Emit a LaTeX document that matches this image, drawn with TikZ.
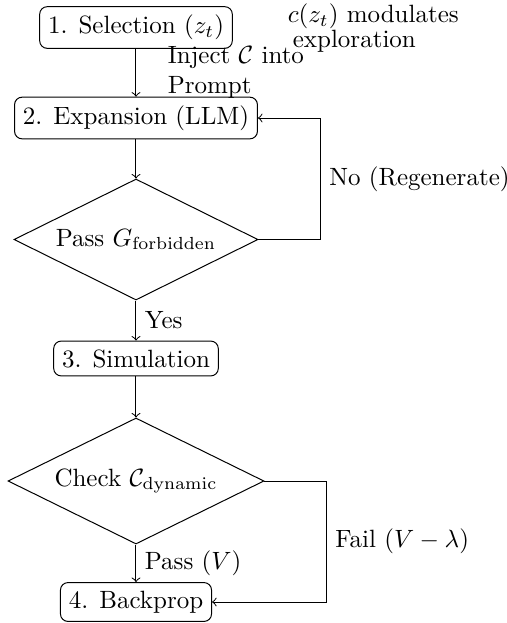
\documentclass[tikz,border=0pt]{standalone}
\usetikzlibrary{shapes.geometric}
\begin{document}
\begin{tikzpicture}[x=0.4pt,y=-0.4pt,
  stepbox/.style={draw, rounded corners=3pt, inner sep=3.33pt},
  decision/.style={draw, diamond, aspect=2, inner sep=1pt},
  arr/.style={->}]
\useasboundingbox (0,0) rectangle (507,623);
\node[stepbox] (n1) at (136,27.5) {1. Selection $(z_t)$};
\node[stepbox] (n2) at (136,118) {2. Expansion (LLM)};
\node[decision, minimum width=244*0.4pt, minimum height=121*0.4pt] (d1) at (136,239.5) {Pass $G_{\mathrm{forbidden}}$};
\node[stepbox] (n3) at (136,358.5) {3. Simulation};
\node[decision, minimum width=256*0.4pt, minimum height=126*0.4pt] (d2) at (136,481) {Check $\mathcal{C}_{\mathrm{dynamic}}$};
\node[stepbox] (n4) at (136,602) {4. Backprop};
\node[anchor=west, align=left] (note) at (279,28.5) {$c(z_t)$ modulates\\[-2pt]\hspace*{2pt}exploration};
\draw[arr] (n1) -- node[midway, anchor=west, xshift=23*0.4pt, align=left] {Inject $\mathcal{C}$ into\\Prompt} (n2);
\draw[arr] (n2) -- (d1);
\draw[arr] (d1.east) -- ++(62,0) |- node[pos=0.25, right] {No (Regenerate)} (n2.east);
\draw[arr] (d1) -- node[midway, right] {Yes} (n3);
\draw[arr] (n3) -- (d2);
\draw[arr] (d2) -- node[midway, right] {Pass $(V)$} (n4);
\draw[arr] (d2.east) -- ++(62,0) |- node[pos=0.25, right] {Fail $(V-\lambda)$} (n4.east);
\end{tikzpicture}
\end{document}
